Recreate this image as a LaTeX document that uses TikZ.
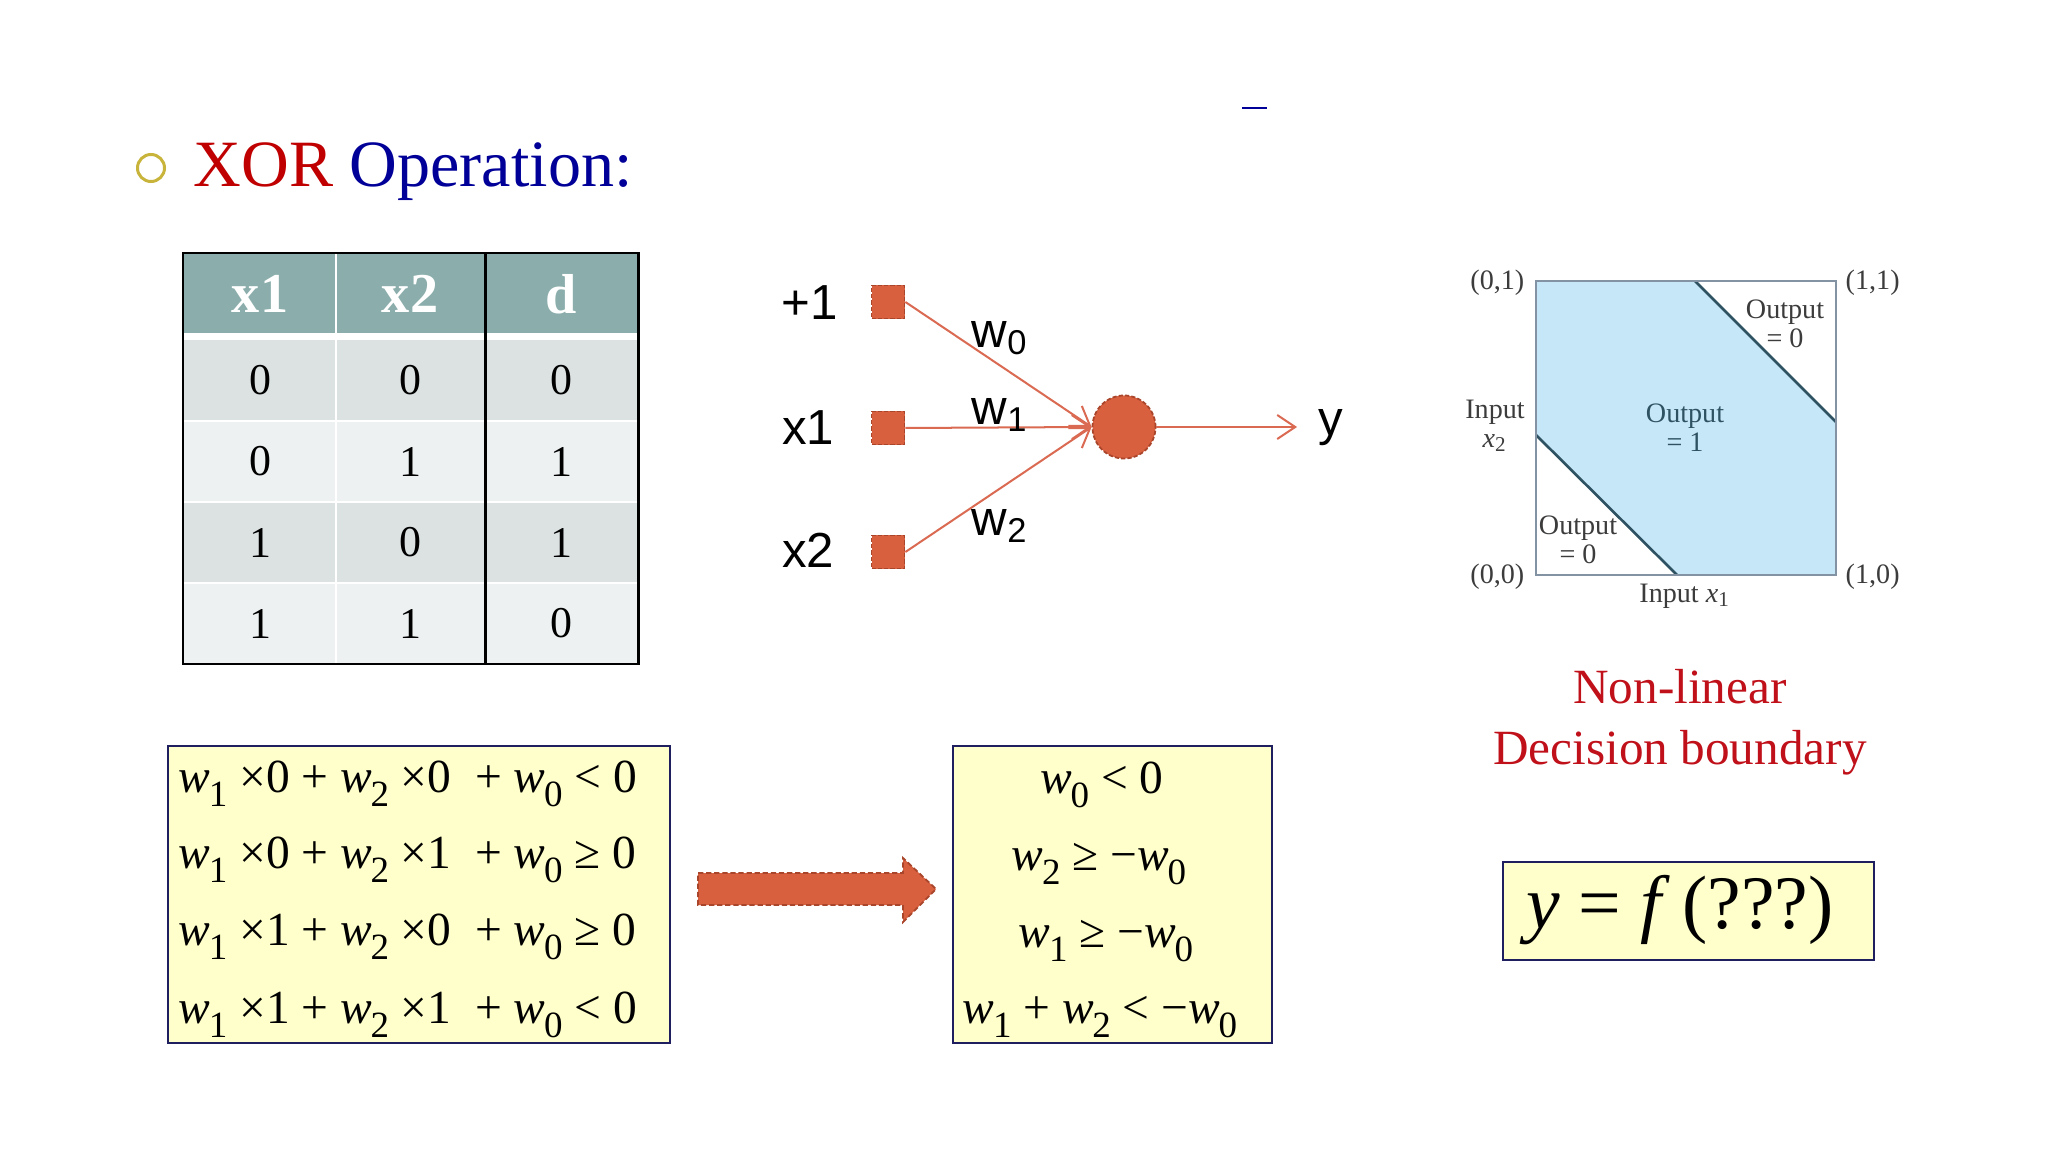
\documentclass[tikz,border=0pt]{standalone}
\usepackage{fontspec}
\setmainfont{Liberation Serif}
\newfontfamily\arialf{Liberation Sans}
\usetikzlibrary{arrows.meta,positioning}
\definecolor{xorred}{HTML}{C00000}
\definecolor{opblue}{HTML}{000099}
\definecolor{bulletc}{HTML}{C8B43A}
\definecolor{hdrfill}{HTML}{8BAEAC}
\definecolor{rowdark}{HTML}{DCE2E2}
\definecolor{rowlight}{HTML}{EDF1F1}
\definecolor{unitfill}{HTML}{D9603F}
\definecolor{unitedge}{HTML}{A8452A}
\definecolor{linkc}{HTML}{DA6A52}
\definecolor{regfill}{HTML}{C6E7F8}
\definecolor{regedge}{HTML}{8393A3}
\definecolor{bndc}{HTML}{2E5262}
\definecolor{regtext}{HTML}{3C3C3C}
\definecolor{eqfill}{HTML}{FFFFCC}
\definecolor{eqedge}{HTML}{1F1F5F}
\definecolor{nlred}{HTML}{C0101A}
\newcommand\wv[1]{\textit{w}\kern-.03em\raisebox{-.3em}{\scalebox{.78}{#1}}}
\tikzset{>={Straight Barb[length=1.8mm,width=2.4mm]},line width=.57pt,
  every node/.style={inner sep=0pt},
  hdcell/.style={text=white,font=\fontsize{16}{19}\selectfont\bfseries},
  cell/.style={font=\fontsize{12.5}{14}\selectfont},
  inbox/.style={draw=unitedge,fill=unitfill,dash pattern=on 1.2pt off .6pt,line width=.5pt,minimum size=.33cm},
  neuron/.style={circle,draw=unitedge,fill=unitfill,dash pattern=on 1.2pt off .6pt,line width=.5pt,minimum size=.63cm},
  link/.style={->,draw=linkc,line width=.57pt},
  nnlabel/.style={font=\arialf\fontsize{14}{16}\selectfont},
  reglabel/.style={text=regtext,align=center,font=\fontsize{8}{8.3}\selectfont},
  eqbox/.style={draw=eqedge,fill=eqfill,line width=.6pt},
  eqline/.style={anchor=base west,font=\fontsize{13.5}{16}\selectfont},
  eqmid/.style={anchor=base,font=\fontsize{13.5}{16}\selectfont},
  bigarrow/.style={fill=unitfill,draw=unitedge,dash pattern=on 1.5pt off .8pt,line width=.5pt}}
\begin{document}
\begin{tikzpicture}[x=0.01cm,y=-0.01cm]
\fill[white] (0,0) rectangle (2048,1152);\useasboundingbox (0,0) rectangle (2048,1152);
\draw[opblue] (1242,108)--(1267,108);
\node[circle,draw=bulletc,line width=.85pt,minimum size=.27cm] (bul) at (151,168) {};
\node[anchor=base west,font=\fontsize{18.8}{22}\selectfont] (ttl) at (193,187) {\textcolor{xorred}{XOR} \textcolor{opblue}{Operation:}};

% truth table
\fill[hdrfill] (183,253) rectangle (638,333);
\foreach \a/\b/\c/\rc [count=\i] in {0/0/0/rowdark,0/1/1/rowlight,1/0/1/rowdark,1/1/0/rowlight}{
  \fill[\rc] (183,{259+81*\i}) rectangle (638,{340+81*\i});
  \node[cell] (r\i a) at (260,{299.5+81*\i}) {\a};\node[cell] (r\i b) at (410,{299.5+81*\i}) {\b};\node[cell] (r\i c) at (561,{299.5+81*\i}) {\c};}
\foreach \yy in {421,502,583} \draw[white] (183,\yy)--(638,\yy);
\draw[white,line width=.85pt] (336,253)--(336,664);\draw[line width=.85pt] (485,253)--(485,664);
\draw[line width=.85pt] (183,253) rectangle (638,664);
\node[hdcell] (hx1) at (260,294) {x1};\node[hdcell] (hx2) at (410,294) {x2};\node[hdcell] (hd) at (561,294) {d};

% perceptron
\node[inbox] (bias) at (888,302) {};\node[inbox] (in1) at (888,428) {};\node[inbox] (in2) at (888,552) {};
\node[neuron] (sum) at (1124,427) {};\coordinate (yout) at (1297,427);
\node[nnlabel] (lb) at (810,303) {+1};\node[nnlabel] (l1) at (808,428) {x1};\node[nnlabel] (l2) at (808,550) {x2};
\node[nnlabel] (ly) at (1331,428) {y};
\draw[link] (bias.east)--(sum.west);\draw[link] (in1.east)--(sum.west);\draw[link] (in2.east)--(sum.west);
\draw[link] (sum.east)--(yout);
\node[nnlabel] (w0) at (1000,338) {w\textsubscript{0}};\node[nnlabel] (w1) at (1000,415) {w\textsubscript{1}};\node[nnlabel] (w2) at (1000,526) {w\textsubscript{2}};

% decision regions
\fill[regfill] (1536,281) rectangle (1836,575);
\fill[white] (1695,281)--(1836,281)--(1836,422)--cycle;\fill[white] (1536,435)--(1536,575)--(1677,575)--cycle;
\draw[bndc,line width=.75pt] (1695,281)--(1836,422) (1536,435)--(1677,575);
\draw[regedge,line width=.7pt] (1536,281) rectangle (1836,575);
\node[reglabel,anchor=east] (c01) at (1525,283) {(0,1)};\node[reglabel,anchor=west] (c11) at (1845,283) {(1,1)};
\node[reglabel,anchor=east] (c00) at (1525,577) {(0,0)};\node[reglabel,anchor=west] (c10) at (1845,577) {(1,0)};
\node[reglabel] (ix2) at (1495,426) {Input\\\textit{x}\textsubscript{2}};\node[reglabel] (ix1) at (1685,596) {Input \textit{x}\textsubscript{1}};
\node[reglabel,text=bndc] (o1) at (1685,428) {Output\\= 1};
\node[reglabel] (o0a) at (1785,324) {Output\\= 0};\node[reglabel] (o0b) at (1578,540) {Output\\= 0};
\node[align=center,text=nlred,font=\fontsize{14}{17.4}\selectfont] (nl) at (1680,722) {Non-linear\\Decision boundary};

% inequalities
\node[eqbox,minimum width=5.02cm,minimum height=2.97cm] (lhs) at (419,894.5) {};
\node[eqbox,minimum width=3.19cm,minimum height=2.97cm] (rhs) at (1112.5,894.5) {};
\node[eqline] (e1) at (178,792) {\wv{1} ×0 + \wv{2} ×0 \ + \wv{0} < 0};
\node[eqline] (e2) at (178,868) {\wv{1} ×0 + \wv{2} ×1 \ + \wv{0} ≥ 0};
\node[eqline] (e3) at (178,945) {\wv{1} ×1 + \wv{2} ×0 \ + \wv{0} ≥ 0};
\node[eqline] (e4) at (178,1023) {\wv{1} ×1 + \wv{2} ×1 \ + \wv{0} < 0};
\draw[bigarrow] (698,873)--(903,873)--(903,858)--(936,889)--(903,922)--(903,905)--(698,905)--cycle;
\node[eqmid] (s1) at (1102,793) {\wv{0} < 0};\node[eqmid] (s2) at (1099,870) {\wv{2} ≥ −\wv{0}};
\node[eqmid] (s3) at (1106,947) {\wv{1} ≥ −\wv{0}};\node[eqmid] (s4) at (1100,1023) {\wv{1} + \wv{2} < −\wv{0}};
\node[eqbox,minimum width=3.71cm,minimum height=.98cm] (fbox) at (1688.5,911) {};
\node[anchor=base,font=\fontsize{21.5}{25}\selectfont] (fy) at (1680,928) {\textit{y} = \textit{f}\,(???)};
\end{tikzpicture}
\end{document}
